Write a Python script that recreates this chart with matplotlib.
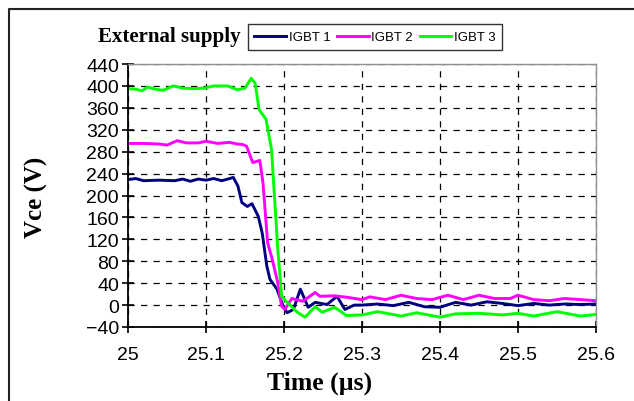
import matplotlib
matplotlib.use("Agg")
import matplotlib.pyplot as plt
from matplotlib.lines import Line2D

# ---- data ----
t_igbt1 = [25.000, 25.010, 25.020, 25.040, 25.060, 25.070, 25.080, 25.090, 25.100, 25.110,
           25.120, 25.128, 25.135, 25.141, 25.146, 25.153, 25.159, 25.167, 25.172, 25.178,
           25.182, 25.191, 25.199, 25.204, 25.212, 25.221, 25.231, 25.240, 25.255, 25.268,
           25.278, 25.290, 25.300, 25.320, 25.340, 25.360, 25.380, 25.400, 25.420, 25.440,
           25.460, 25.480, 25.500, 25.520, 25.540, 25.560, 25.580, 25.600]
v_igbt1 = [229, 231, 227, 228, 227, 230, 226, 230, 228, 231,
           227, 230, 233, 217, 187, 180, 185, 162, 132, 71,
           47, 29, -2, -14, -8, 29, -4, 5, 1, 16,
           -8, 0, 0, 2, -1, 5, -3, -4, 5, 0,
           6, 3, -1, 3, 0, 2, 1, 2]

t_igbt2 = [25.000, 25.020, 25.040, 25.050, 25.063, 25.075, 25.090, 25.100, 25.115, 25.130,
           25.140, 25.147, 25.152, 25.160, 25.169, 25.173, 25.179, 25.185, 25.192, 25.197,
           25.201, 25.210, 25.224, 25.240, 25.246, 25.265, 25.282, 25.300, 25.310, 25.330,
           25.350, 25.370, 25.390, 25.410, 25.430, 25.450, 25.470, 25.490, 25.500, 25.520,
           25.540, 25.560, 25.580, 25.600]
v_igbt2 = [295, 295, 294, 292, 300, 296, 296, 299, 295, 297,
           294, 293, 290, 260, 264, 224, 114, 83, 41, -2,
           -8, 12, 7, 23, 16, 17, 14, 10, 15, 10,
           18, 12, 10, 18, 10, 18, 12, 12, 18, 10,
           8, 12, 10, 8]

t_igbt3 = [25.000, 25.010, 25.018, 25.025, 25.035, 25.045, 25.058, 25.070, 25.085, 25.098,
           25.110, 25.128, 25.140, 25.150, 25.158, 25.163, 25.168, 25.177, 25.180, 25.184,
           25.192, 25.197, 25.204, 25.217, 25.227, 25.240, 25.249, 25.265, 25.280, 25.300,
           25.320, 25.350, 25.370, 25.400, 25.420, 25.450, 25.480, 25.500, 25.520, 25.550,
           25.580, 25.600]
v_igbt3 = [395, 394, 391, 398, 394, 392, 400, 396, 395, 396,
           400, 400, 393, 396, 414, 405, 357, 339, 315, 284,
           102, 16, 5, -13, -22, -3, -13, -4, -19, -18,
           -12, -20, -14, -22, -16, -15, -18, -15, -20, -12,
           -20, -17]

series_names = ["IGBT 1", "IGBT 2", "IGBT 3"]
series_colors = ["#000080", "#FF00FF", "#00FF00"]
x_ticks = [25, 25.1, 25.2, 25.3, 25.4, 25.5, 25.6]
x_ticklabels = ["25", "25.1", "25.2", "25.3", "25.4", "25.5", "25.6"]
y_ticks = list(range(-40, 441, 40))

# ---- figure ----
fig = plt.figure(figsize=(6.34, 4.02), dpi=100)
fig.patch.set_facecolor("white")
ax = fig.add_axes([128/634, 1-328/402, (596-128)/634, (328-65)/402])

for t, v, name, c in zip([t_igbt1, t_igbt2, t_igbt3], [v_igbt1, v_igbt2, v_igbt3],
                         series_names, series_colors):
    ax.plot(t, v, color=c, lw=2.1, label=name, solid_joinstyle="round")

ax.set_xlim(25, 25.6)
ax.set_ylim(-40, 440)
ax.set_xticks(x_ticks)
ax.set_xticklabels(x_ticklabels)
ax.set_yticks(y_ticks)

ax.grid(True, color="black", linestyle=(0, (5, 5)), lw=0.9)
ax.set_axisbelow(True)

for s in ["left", "bottom"]:
    ax.spines[s].set_color("black")
    ax.spines[s].set_linewidth(1.3)
for s in ["top", "right"]:
    ax.spines[s].set_color("#909090")
    ax.spines[s].set_linewidth(1.0)

ax.tick_params(axis="both", direction="inout", length=9, width=1.2, color="black",
               labelsize=14, labelcolor="black")
ax.tick_params(axis="x", pad=9)
ax.tick_params(axis="y", pad=2)
for lab in ax.get_xticklabels() + ax.get_yticklabels():
    lab.set_fontfamily("Liberation Sans")

ax.set_xlabel("Time (µs)", fontsize=18.5, fontweight="bold", family="Liberation Serif")
ax.xaxis.set_label_coords((320-128)/(596-128), (328-383)/(328-65))
ax.xaxis.label.set_va("center")
ax.set_ylabel("Vce (V)", fontsize=18, fontweight="bold", family="Liberation Serif")
ax.yaxis.set_label_coords((36-128)/(596-128), (328-197)/(328-65))
ax.yaxis.label.set_va("center")

fig.text(169/634, 1-37/402, "External supply", fontsize=15, fontweight="bold",
         family="Liberation Serif", ha="center", va="center")

leg = fig.legend(loc="center", bbox_to_anchor=(375/634, 1-38/402), ncol=3,
                 prop={"family": "Liberation Sans", "size": 9.5}, frameon=True,
                 fancybox=False, edgecolor="black", handlelength=2.4,
                 columnspacing=0.5, handletextpad=0.2, borderpad=0.5,
                 borderaxespad=0.0)
leg.get_frame().set_linewidth(1.0)

# outer frame (left and top edges)
fig.add_artist(Line2D([9/634, 9/634, 1.0], [0.0, 1-10/402, 1-10/402],
                      transform=fig.transFigure, color="#222222", lw=1.5))

fig.savefig("out.png", dpi=100)
